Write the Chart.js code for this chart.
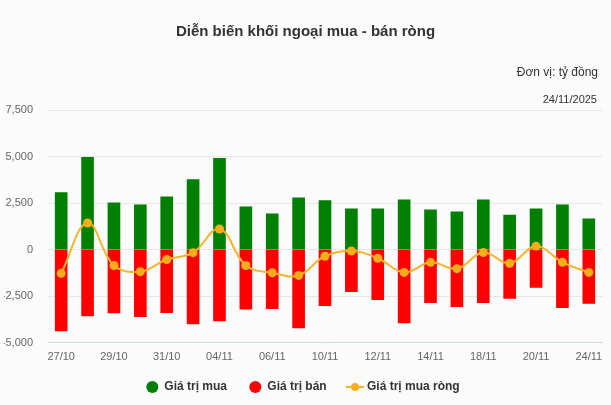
<!DOCTYPE html>
<html>
<head>
<meta charset="utf-8">
<script src="https://cdn.jsdelivr.net/npm/chart.js@4"></script>
<style>
  html, body { margin: 0; padding: 0; background: #fbfbfc; }
  #wrap { position: relative; width: 611px; height: 405px; font-family: "Liberation Sans", Arial, sans-serif; }
  #title { position: absolute; top: 22px; left: 0; width: 611px; text-align: center; font-size: 15px; font-weight: bold; color: #333; }
  #unit { position: absolute; top: 65px; right: 13px; font-size: 12px; color: #333; }
  #date { position: absolute; top: 93px; right: 14px; font-size: 11px; color: #333; }
  canvas { position: absolute; top: 0; left: 0; }
</style>
</head>
<body>
<div id="wrap">
  <canvas id="myChart" width="611" height="405"></canvas>
  <div id="title">Diễn biến khối ngoại mua - bán ròng</div>
  <div id="unit">Đơn vị: tỷ đồng</div>
  <div id="date">24/11/2025</div>
</div>
<script>
// ngày giao dịch
const labels = ['27/10', '28/10', '29/10', '30/10', '31/10', '03/11', '04/11', '05/11', '06/11', '07/11',
  '10/11', '11/11', '12/11', '13/11', '14/11', '17/11', '18/11', '19/11', '20/11', '21/11', '24/11'];

// giá trị mua / bán / mua ròng (tỷ đồng)
const buyValues = [3060, 4960, 2520, 2410, 2840, 3770, 4900, 2300, 1920, 2790,
  2630, 2190, 2190, 2680, 2140, 2030, 2680, 1860, 2190, 2410, 1650];
const sellValues = [-4360, -3550, -3400, -3600, -3385, -3980, -3820, -3200, -3170, -4200,
  -3000, -2260, -2680, -3930, -2840, -3060, -2840, -2620, -2030, -3110, -2890];
const netValues = [-1270, 1430, -850, -1180, -530, -160, 1110, -850, -1240, -1380,
  -350, -70, -460, -1220, -680, -1020, -150, -730, 190, -680, -1220];

const yTicks = [-5000, -2500, 0, 2500, 5000, 7500];

const LINE_COLOR = '#f6b42c';
const DOT_COLOR = '#f9ad1a';

// ký hiệu chú thích cho đường: đoạn thẳng + chấm tròn
function lineLegendIcon() {
  const c = document.createElement('canvas');
  c.width = 18; c.height = 10;
  const g = c.getContext('2d');
  g.strokeStyle = LINE_COLOR;
  g.lineWidth = 2;
  g.beginPath(); g.moveTo(0, 5); g.lineTo(18, 5); g.stroke();
  g.fillStyle = DOT_COLOR;
  g.beginPath(); g.arc(9, 5, 4, 0, Math.PI * 2); g.fill();
  return c;
}

document.addEventListener("DOMContentLoaded", () => {
  const ctx = document.getElementById('myChart').getContext('2d');
  Chart.defaults.font.family = '"Liberation Sans", Arial, sans-serif';
  const lineIcon = lineLegendIcon();

  new Chart(ctx, {
    data: {
      labels: labels,
      datasets: [
        {
          type: 'line',
          label: 'Giá trị mua ròng',
          data: netValues,
          borderColor: LINE_COLOR,
          backgroundColor: DOT_COLOR,
          borderWidth: 2,
          pointRadius: 4.5,
          pointBorderWidth: 0,
          tension: 0.4,
          order: 0
        },
        {
          type: 'bar',
          label: 'Giá trị mua',
          data: buyValues,
          backgroundColor: '#008000',
          barThickness: 12,
          order: 1
        },
        {
          type: 'bar',
          label: 'Giá trị bán',
          data: sellValues,
          backgroundColor: '#ff0000',
          barThickness: 12,
          order: 2
        }
      ]
    },
    options: {
      responsive: false,
      animation: false,
      layout: { padding: { top: 110, left: 4, right: 9, bottom: 2 } },
      scales: {
        x: {
          stacked: true,
          grid: { display: false, drawTicks: false },
          border: { color: '#ccd6eb' },
          ticks: {
            autoSkip: false,
            maxRotation: 0,
            padding: 8,
            color: '#666',
            font: { size: 11 },
            callback: function (value, index) {
              return index % 2 === 0 ? labels[index] : '';
            }
          }
        },
        y: {
          stacked: false,
          min: -5000,
          max: 7500,
          afterBuildTicks: function (axis) {
            axis.ticks = yTicks.map(v => ({ value: v }));
          },
          afterFit: function (axis) { axis.width = 44; },
          grid: { color: '#e6e6e6', drawTicks: false },
          border: { display: false },
          ticks: {
            padding: 15,
            color: '#666',
            font: { size: 11 }
          }
        }
      },
      plugins: {
        legend: {
          position: 'bottom',
          labels: {
            usePointStyle: true,
            boxWidth: 12,
            boxHeight: 8.5,
            color: '#333',
            font: { size: 12, weight: 'bold' },
            padding: 9,
            sort: (a, b) => {
              const orderMap = { 'Giá trị mua': 0, 'Giá trị bán': 1, 'Giá trị mua ròng': 2 };
              return orderMap[a.text.trim()] - orderMap[b.text.trim()];
            },
            generateLabels: function (chart) {
              const items = Chart.defaults.plugins.legend.labels.generateLabels(chart);
              items.forEach(it => {
                if (it.text === 'Giá trị mua ròng') {
                  it.pointStyle = lineIcon;
                } else {
                  it.pointStyle = 'circle';
                  it.lineWidth = 0;
                  it.text = it.text + '    ';
                }
              });
              return items;
            }
          }
        },
        tooltip: { enabled: false }
      }
    }
  });
});
</script>
</body>
</html>
